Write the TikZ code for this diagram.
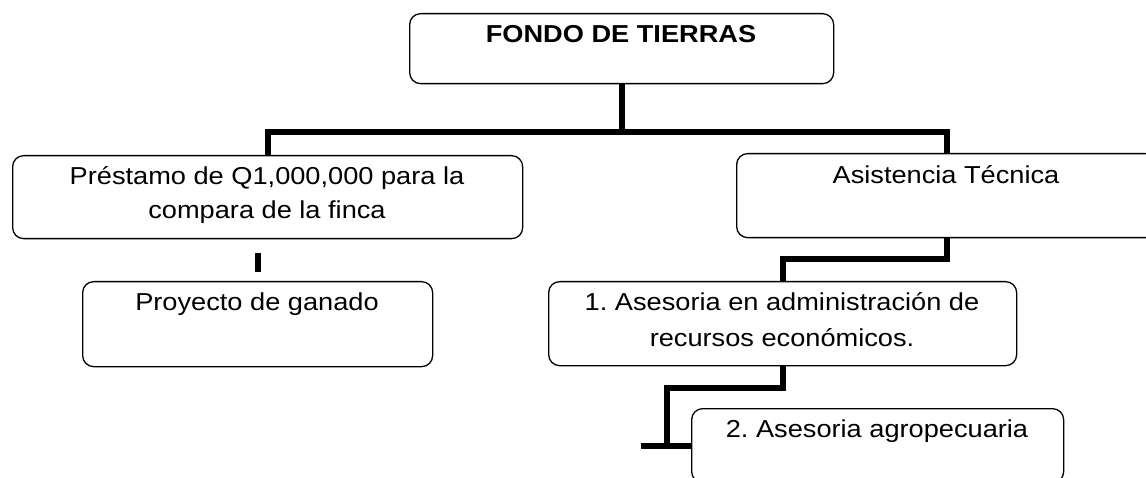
\documentclass[tikz,border=0pt]{standalone}
\usepackage{fontspec}
\setmainfont[FakeStretch=1.11]{Liberation Sans}
\frenchspacing
\begin{document}
\begin{tikzpicture}[x=1pt,y=-1pt,
  box/.style={draw=black, line width=1.3pt, rounded corners=11pt, inner sep=0pt, anchor=north west},
  conn/.style={line width=6pt, black},
  txt/.style={anchor=base, inner sep=0pt, font=\fontsize{24.5}{34}\selectfont}]
\useasboundingbox (0,0) rectangle (1146,478);
\clip (0,0) rectangle (1146,478);
% boxes
\node[box, minimum width=424pt, minimum height=70pt] (top) at (409,13) {};
\node[box, minimum width=510pt, minimum height=83pt] (left) at (12,155) {};
\node[box, minimum width=350pt, minimum height=85pt] (proy) at (82,281) {};
\node[box, minimum width=420pt, minimum height=84pt] (asis) at (736,153) {};
\node[box, minimum width=468pt, minimum height=84pt] (b1) at (548,281) {};
\node[box, minimum width=372pt, minimum height=74pt] (b2) at (691,408) {};
% texts
\node[txt, font=\fontsize{24.5}{34}\selectfont\bfseries] (t0) at (621,43) {FONDO DE TIERRAS};
\node[txt] (t1a) at (267,185) {Préstamo de Q1,000,000 para la};
\node[txt] (t1b) at (267,219) {compara de la finca};
\node[txt] (t2) at (257,311) {Proyecto de ganado};
\node[txt] (t3) at (946,184) {Asistencia Técnica};
\node[txt] (t4a) at (782,311) {1. Asesoria en administración de};
\node[txt] (t4b) at (782,346) {recursos económicos.};
\node[txt] (t5) at (877,437) {2. Asesoria agropecuaria};
% connectors
\coordinate (bar) at (0,132);
\draw[conn] (top.south) -- (top.south |- bar);
\draw[conn] (left.north) -- (left.north |- bar) -- (asis.north |- bar) -- (asis.north);
\draw[conn] ([yshift=28pt]proy.north) -- ([yshift=9pt]proy.north);
\draw[conn] (asis.south) -- ++(0,21) -| (b1.north);
\draw[conn] (b1.south) -- ++(0,22) -| ([xshift=-24pt]b2.west);
\draw[conn] ([xshift=-50pt]b2.west) -- (b2.west);
\end{tikzpicture}
\end{document}
